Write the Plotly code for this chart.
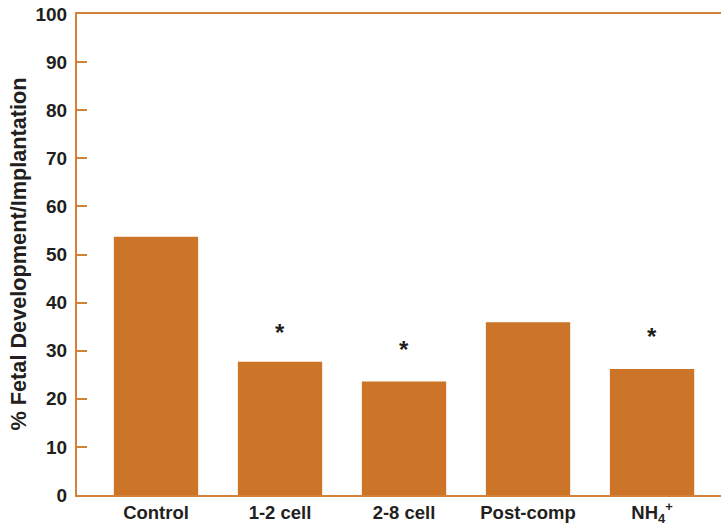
import plotly.graph_objects as go

categories = ["Control", "1-2 cell", "2-8 cell", "Post-comp", "NH<sub>4</sub><sup>+</sup>"]
values = [53.7, 27.7, 23.6, 35.9, 26.2]
star_flags = [False, True, True, False, True]
star_y = [None, 34.3, 30.6, None, 33.3]
y_ticks = [0, 10, 20, 30, 40, 50, 60, 70, 80, 90, 100]

bar_color = "#CC7529"
axis_color = "#D4823A"
font_family = "Liberation Sans, Arial, sans-serif"
text_color = "#231F20"

fig = go.Figure()
fig.add_trace(go.Bar(
    x=list(range(len(categories))),
    y=values,
    width=0.68,
    marker=dict(color=bar_color, line=dict(width=0)),
))

for i, (flag, sy) in enumerate(zip(star_flags, star_y)):
    if flag:
        fig.add_annotation(x=i, y=sy, text="<b>*</b>", showarrow=False,
                           font=dict(size=24, color=text_color, family=font_family),
                           yanchor="middle", yshift=-2)

# y-axis title as annotation for precise placement
fig.add_annotation(xref="paper", yref="paper", x=-59 / 644, y=0.5,
                   text="<b>% Fetal Development/Implantation</b>", textangle=-90,
                   showarrow=False, xanchor="center", yanchor="middle",
                   font=dict(size=21.7, family=font_family, color=text_color))

fig.update_layout(
    width=721, height=527,
    margin=dict(l=77, r=0, t=14, b=32),
    plot_bgcolor="white", paper_bgcolor="white",
    showlegend=False,
    font=dict(family=font_family, size=18, color=text_color),
)
fig.update_xaxes(
    range=[-0.637, 4.556],
    tickmode="array", tickvals=list(range(len(categories))),
    ticktext=["<b>%s</b>" % c for c in categories],
    showline=True, linecolor=axis_color, linewidth=2, mirror=True,
    ticks="", showgrid=False, zeroline=False, automargin=False,
    tickfont=dict(size=18.5, family=font_family, color=text_color),
)
fig.update_yaxes(
    range=[0, 100],
    tickmode="array", tickvals=y_ticks,
    ticktext=["<b>%d</b>" % t for t in y_ticks],
    showline=True, linecolor=axis_color, linewidth=2,
    ticks="inside", ticklen=10, tickwidth=2, tickcolor=axis_color,
    showgrid=False, zeroline=False, automargin=False,
    ticklabelstandoff=4,
    tickfont=dict(size=19, family=font_family, color=text_color),
)

fig.write_html("out.html", config={"displayModeBar": False},
               post_script="document.body.style.margin='0';")
